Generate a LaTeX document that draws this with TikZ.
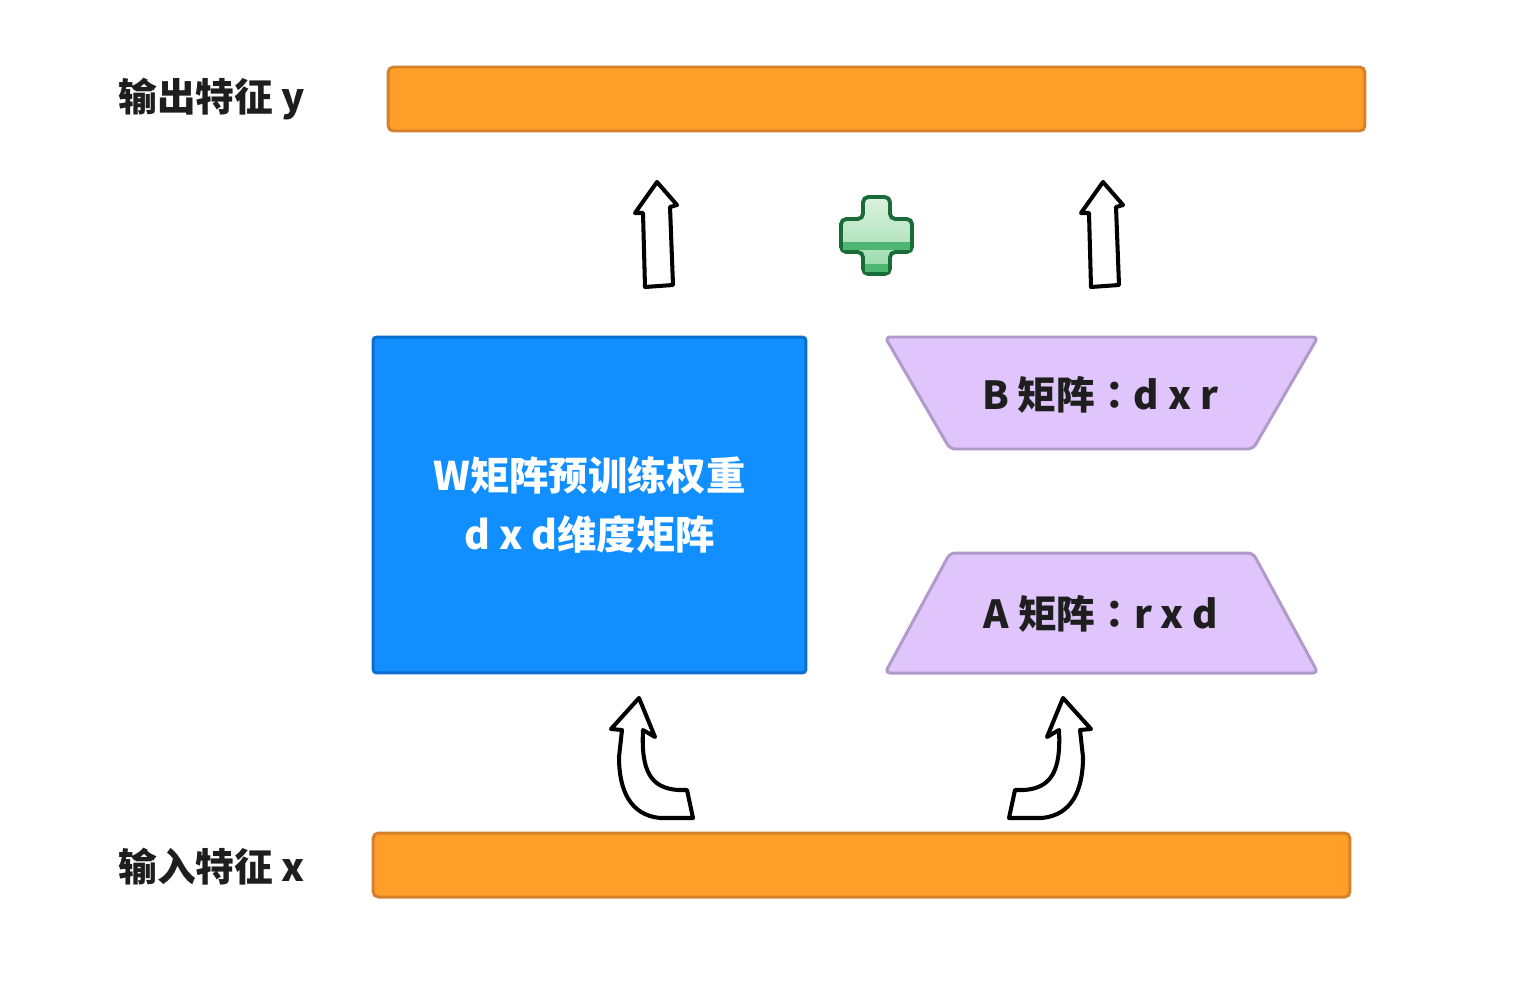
\documentclass[tikz,border=0pt]{standalone}
\usepackage{fontspec}
\setmainfont{Noto Sans CJK SC}
\newfontfamily\cjktc{Noto Sans CJK TC}
\newcommand{\wcolon}{{\cjktc\bfseries ：}}
\usetikzlibrary{positioning}
\definecolor{barfill}{HTML}{FF9F29}
\definecolor{barline}{HTML}{D5812B}
\definecolor{wfill}{HTML}{118EFF}
\definecolor{wline}{HTML}{0A6FCF}
\definecolor{lorafill}{HTML}{E0C5FD}
\definecolor{loraline}{HTML}{B09ACA}
\definecolor{plusline}{HTML}{196B38}
\definecolor{plustop}{HTML}{DBF2DF}
\definecolor{plusbot}{HTML}{98D9AA}
\definecolor{plusband}{HTML}{4DB671}
\definecolor{textdark}{HTML}{1E1E1E}
\tikzset{
    bar/.style={draw=barline, fill=barfill, line width=1.7pt, rounded corners=3pt, minimum width=19.54cm, minimum height=1.28cm, inner sep=0pt},
    sidelabel/.style={font=\bfseries\fontsize{22}{26}\selectfont, text=textdark, inner sep=0pt},
    wbox/.style={draw=wline, fill=wfill, line width=1.7pt, rounded corners=2pt, minimum width=8.66cm, minimum height=6.72cm, align=center, text=white, font=\bfseries\fontsize{22.4}{34}\selectfont},
    lora/.style={draw=loraline, fill=lorafill, line width=1.7pt, rounded corners=3pt},
    loratext/.style={font=\bfseries\fontsize{22}{26}\selectfont, text=textdark, inner sep=0pt},
    handarrow/.style={draw=black, fill=white, line width=2.3pt, line join=round},
    uparrow/.pic={
        % straight arrow
        \draw[handarrow] (-2,-105) -- (18,-82) -- (11,-80) -- (14,-2) -- (-14,0) -- (-16,-74) -- (-24,-74) -- cycle;
    },
    bendarrow/.pic={
        % bent arrow
        \draw[handarrow] (-11,-62) -- (5,-23) -- (-7,-30) .. controls (-9,10) and (0,28) .. (28,30) -- (37,30) -- (43,58) -- (10,58) .. controls (-20,55) and (-31,30) .. (-31,-3) -- (-28,-30) -- (-39,-31) -- cycle;
    },
    plussign/.pic={
        % plus
        \draw[draw=plusline, line width=2.2pt, rounded corners=3pt, top color=plustop, bottom color=plusbot]
            (-13.5,-38.5) -- (13.5,-38.5) -- (13.5,-16.5) -- (35.5,-16.5) -- (35.5,16.5) -- (13.5,16.5)
            -- (13.5,38.5) -- (-13.5,38.5) -- (-13.5,16.5) -- (-35.5,16.5) -- (-35.5,-16.5) -- (-13.5,-16.5) -- cycle;
        \fill[plusband] (-33.8,6) rectangle (33.8,14.8);
        \fill[plusband] (-11.8,28) rectangle (11.8,36.8);
    },
}
\begin{document}
\begin{tikzpicture}[x=0.02cm, y=-0.02cm]
\useasboundingbox (0,0) rectangle (1520,990);

% Feature bars
\node[bar] (outbar) at (876.5,99) {};
\node[bar] (inbar) at (861.5,865) {};
\node[sidelabel, anchor=west] (ylabel) at (118,99) {输出特征 y};
\node[sidelabel, anchor=west] (xlabel) at (118,867) {输入特征 x};

% Pretrained weight
\node[wbox] (wmat) at (589.5,505) {W矩阵预训练权重\\d x d维度矩阵};

% Low rank matrices
\draw[lora] (885,337) -- (1318,337) -- (1253,449) -- (950,449) -- cycle;
\draw[lora] (950,553) -- (1253,553) -- (1318,673) -- (885,673) -- cycle;
\node[loratext] (bmat) at (1100,395) {B 矩阵\wcolon d x r};
\node[loratext] (amat) at (1101,614) {A 矩阵\wcolon r x d};

% Arrows
\pic at (659,287) {uparrow};
\pic at (1105,287) {uparrow};
\pic at (876.5,235.5) {plussign};
\pic at (650,760) {bendarrow};
\pic[xscale=-1] at (1052,760) {bendarrow};

\end{tikzpicture}
\end{document}
